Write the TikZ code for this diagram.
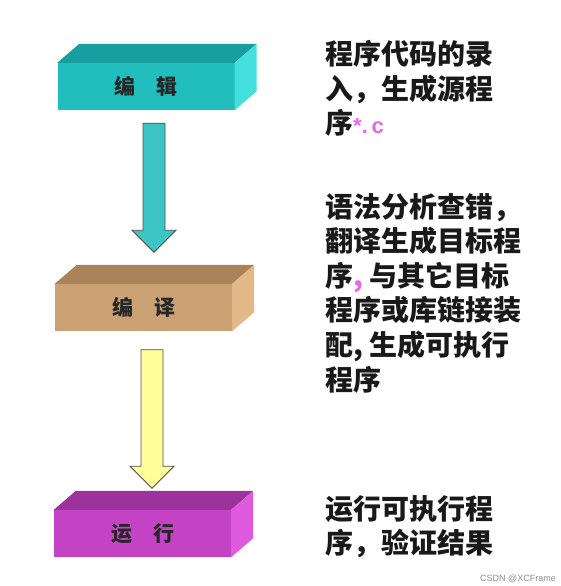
\documentclass[tikz,border=0pt]{standalone}
\usepackage{fontspec}
\setmainfont{Liberation Sans}
\newfontfamily\cjk{Noto Sans CJK SC}
\usetikzlibrary{calc}

\definecolor{tealfront}{HTML}{22BDBD}
\definecolor{tealtop}{HTML}{179E9E}
\definecolor{tealside}{HTML}{44E0E0}
\definecolor{tanfront}{HTML}{C9A172}
\definecolor{tantop}{HTML}{A9825A}
\definecolor{tanside}{HTML}{E2B887}
\definecolor{pinkfront}{HTML}{C443C4}
\definecolor{pinktop}{HTML}{9C329C}
\definecolor{pinkside}{HTML}{E05AE0}
\definecolor{tealarrow}{HTML}{3CC4C4}
\definecolor{yellowarrow}{HTML}{FFFF99}
\definecolor{starpink}{HTML}{E868E8}

% front node, then top and right faces
\newcommand{\stagebox}[6]{%
  \node[stage, fill=#4] (#1) at (#2) {#3};
  \fill[#5] (#1.north west) -- ++(22,-19) -- ($(#1.north east)+(22,-19)$)
    -- (#1.north east) -- cycle;
  \fill[#6] (#1.north east) -- ++(22,-19) -- ($(#1.south east)+(22,-19)$)
    -- (#1.south east) -- cycle;
}
% block arrow from #1 down to the tip #2
\newcommand{\flowarrow}[3]{%
  \draw[flow, fill=#3] let \p1=#1, \p2=#2 in
    (\x1-11pt,\y1) -- (\x1+11pt,\y1) -- (\x1+11pt,\y2+22pt)
    -- (\x1+22pt,\y2+22pt) -- (\x1,\y2) -- (\x1-22pt,\y2+22pt)
    -- (\x1-11pt,\y2+22pt) -- cycle;
}

\begin{document}
\begin{tikzpicture}[
  x=1pt, y=-1pt,
  stage/.style = {shape=rectangle, minimum width=177pt, minimum height=47pt,
    inner sep=0pt, font=\cjk\bfseries\fontsize{21}{26}\selectfont, text=black!85},
  flow/.style = {draw=black!70, line width=0.8pt, line join=miter},
  note/.style = {anchor=north west, inner sep=0pt, align=left,
    font=\cjk\bfseries\fontsize{28}{34.6}\selectfont, text=black!90}
  ]
  \useasboundingbox (0,0) rectangle (560,586);

  \stagebox{edit}{146,86.5}{编\quad 辑}{tealfront}{tealtop}{tealside}
  \stagebox{compile}{143.5,307.5}{编\quad 译}{tanfront}{tantop}{tanside}
  \stagebox{run}{142.5,533.5}{运\quad 行}{pinkfront}{pinktop}{pinkside}

  \flowarrow{($(edit.south)+(8,13)$)}{($(compile.north)+(10.5,-31.5)$)}{tealarrow}
  \flowarrow{($(compile.south)+(8.5,18.5)$)}{($(run.north)+(9.5,-21.5)$)}{yellowarrow}

  \node[note] (desc1) at (325,40)
    {程序代码的录\\入，生成源程\\序{\color{starpink}\rmfamily\fontsize{22}{34.6}\selectfont *.\,c}};
  \node[note] (desc2) at (325,193)
    {语法分析查错，\\翻译生成目标程\\序{\color{starpink},} 与其它目标\\程序或库链接装\\配, 生成可执行\\程序};
  \node[note] (desc3) at (325,495)
    {运行可执行程\\序，验证结果};

  \node[anchor=base east, inner sep=0pt, font=\fontsize{9}{10}\selectfont,
    text=black!45] (credit) at (556,581) {CSDN @XCFrame};
\end{tikzpicture}
\end{document}
